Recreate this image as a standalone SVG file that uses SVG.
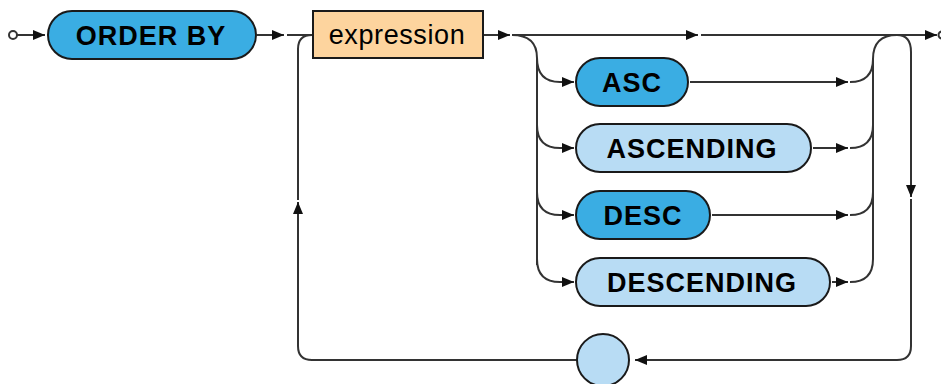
<svg xmlns="http://www.w3.org/2000/svg" width="941" height="384" viewBox="0 0 941 384">
<style>
.ln{fill:none;stroke:#333;stroke-width:2}
.arr{marker-end:url(#ah)}
.kw{stroke:#1a1a1a;stroke-width:2}
.dark{fill:#3aade3}
.light{fill:#b8dcf4}
.nt{fill:#fdd49e}
.t{font-family:"Liberation Sans",Arial,sans-serif;font-size:27px;fill:#000;text-anchor:middle}
.b{font-weight:bold;letter-spacing:1px}
</style>
<defs>
<marker id="ah" markerUnits="userSpaceOnUse" markerWidth="13" markerHeight="10" refX="12" refY="5" orient="auto">
<path d="M0,0 L12,5 L0,10 Z" fill="#111"/>
</marker>
</defs>
<g id="connectors">
<path class="ln arr" d="M17,35 H45"/>
<path class="ln arr" d="M257,35 H284"/>
<path class="ln" d="M287,35 H313"/>
<path class="ln arr" d="M484,35 H510"/>
<path class="ln arr" d="M512,35 H698"/>
<path class="ln arr" d="M701,35 H937"/>
<circle cx="942" cy="35" r="3.5" fill="#fff" stroke="#333" stroke-width="2"/>
<path class="ln arr" d="M512,35 Q537,35 537,58 Q537,82 560,82 H574"/>
<path class="ln" d="M537,58 V265"/>
<path class="ln arr" d="M537,125 Q537,148 560,148 H574"/>
<path class="ln arr" d="M537,192 Q537,215 560,215 H574"/>
<path class="ln arr" d="M537,259 Q537,282 560,282 H574"/>
<path class="ln arr" d="M690,82 H848"/>
<path class="ln arr" d="M813,148 H848"/>
<path class="ln arr" d="M712,215 H848"/>
<path class="ln arr" d="M832,282 H848"/>
<path class="ln" d="M850,82 Q873,82 873,59 Q873,35 897,35"/>
<path class="ln" d="M850,148 Q873,148 873,125"/>
<path class="ln" d="M850,215 Q873,215 873,192"/>
<path class="ln" d="M850,282 Q873,282 873,259 V59"/>
<path class="ln arr" d="M897,35 Q911,35 911,52 V197"/>
<path class="ln arr" d="M911,199 V346 Q911,360 897,360 H635"/>
<path class="ln arr" d="M577,360 H312 Q298,360 298,346 V202"/>
<path class="ln" d="M298,200 V49 Q298,35 312,35"/>
</g>
<g id="start"><circle cx="13" cy="35" r="4" fill="#fff" stroke="#333" stroke-width="2"/></g>
<g id="order-by"><rect class="kw dark" x="48" y="11" width="208" height="48" rx="24"/><text class="t b" x="151" y="44.5">ORDER BY</text></g>
<g id="expression"><rect class="kw nt" x="313" y="11" width="170" height="47"/><text class="t" x="397" y="44" style="letter-spacing:0.6px">expression</text></g>
<g id="asc"><rect class="kw dark" x="576" y="58" width="112" height="48" rx="24"/><text class="t b" x="632" y="91.5">ASC</text></g>
<g id="ascending"><rect class="kw light" x="576" y="124" width="235" height="48" rx="24"/><text class="t b" x="692" y="157.5">ASCENDING</text></g>
<g id="desc"><rect class="kw dark" x="576" y="191" width="134" height="48" rx="24"/><text class="t b" x="643" y="224.5">DESC</text></g>
<g id="descending"><rect class="kw light" x="576" y="258" width="254" height="48" rx="24"/><text class="t b" x="702" y="291.5">DESCENDING</text></g>
<g id="empty"><circle class="kw light" cx="603" cy="360" r="26"/></g>
</svg>
